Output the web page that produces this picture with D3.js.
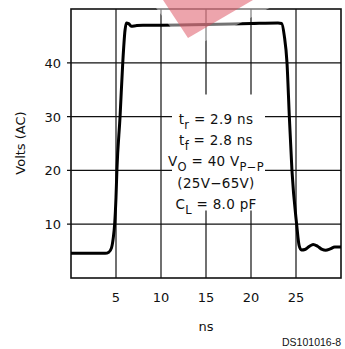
<!DOCTYPE html>
<html>
<head>
<meta charset="utf-8">
<script src="https://cdn.jsdelivr.net/npm/d3@7"></script>
<style>
  html, body { margin: 0; padding: 0; background: #fff; }
  svg { display: block; }
  text { font-family: "DejaVu Sans", sans-serif; fill: #111; }
</style>
</head>
<body>
<div id="chart"></div>
<script>
// waveform (ns, volts)
const timeNs = [0, 3.8, 4.2, 4.5, 4.7, 4.85, 5.0, 5.1, 5.45, 5.75, 6.0, 6.15, 6.4, 6.7, 7.2, 8.0, 10, 15, 20, 23.0, 23.4, 23.7, 24.0, 24.26, 24.55, 25.07, 25.35, 25.6, 26.0, 26.5, 26.9, 27.4, 27.9, 28.3, 28.8, 29.3, 30];
const volts  = [4.6, 4.6, 4.8, 5.6, 7.5, 10, 15, 20, 30, 40, 46, 47.4, 47.3, 46.8, 46.9, 47.0, 47.0, 47.1, 47.3, 47.4, 47.3, 45, 40, 30, 20, 10, 6.0, 5.2, 5.3, 5.9, 6.25, 5.9, 5.3, 5.15, 5.4, 5.75, 5.75];

const xTicks = [5, 10, 15, 20, 25];
const yTicks = [10, 20, 30, 40];

const note = [
  [["t", 0], ["r", 1], [" = 2.9 ns", 0]],
  [["t", 0], ["f", 1], [" = 2.8 ns", 0]],
  [["V", 0], ["O", 1], [" = 40 V", 0], ["P\u2212P", 1]],
  [["(25V\u221265V)", 0]],
  [["C", 0], ["L", 1], [" = 8.0 pF", 0]]
];

const W = 345, H = 349;
const margin = { left: 71, right: 4, top: 9, bottom: 71 };

const svg = d3.select('#chart').append('svg')
  .attr('width', W).attr('height', H);

const x = d3.scaleLinear().domain([0, 30]).range([margin.left, W - margin.right]);
const y = d3.scaleLinear().domain([0, 50]).range([H - margin.bottom, margin.top]);

// grid
const grid = svg.append('g').attr('stroke', '#111').attr('stroke-width', 1.2);
grid.selectAll('line.v').data(xTicks).enter().append('line')
  .attr('x1', d => x(d)).attr('x2', d => x(d))
  .attr('y1', y(50)).attr('y2', y(0));
grid.selectAll('line.h').data(yTicks).enter().append('line')
  .attr('x1', x(0) - 4).attr('x2', x(30))
  .attr('y1', d => y(d)).attr('y2', d => y(d));

// white box behind the annotation
svg.append('rect')
  .attr('x', 172).attr('y', 94.5)
  .attr('width', 93).attr('height', 116)
  .attr('fill', '#fff');

// frame
svg.append('rect')
  .attr('x', x(0)).attr('y', y(50))
  .attr('width', x(30) - x(0)).attr('height', y(0) - y(50))
  .attr('fill', 'none').attr('stroke', '#111').attr('stroke-width', 1.6);

// waveform
const line = d3.line()
  .x((d, i) => x(timeNs[i]))
  .y(d => y(d))
  .curve(d3.curveMonotoneX);
svg.append('path')
  .datum(volts)
  .attr('d', line)
  .attr('fill', 'none')
  .attr('stroke', '#000')
  .attr('stroke-width', 3)
  .attr('stroke-linejoin', 'round');

// tick labels
svg.append('g').selectAll('text').data(xTicks).enter().append('text')
  .attr('x', d => x(d)).attr('y', 302)
  .attr('text-anchor', 'middle')
  .attr('font-size', 13)
  .text(d => d);
svg.append('g').selectAll('text').data(yTicks).enter().append('text')
  .attr('x', 61).attr('y', d => y(d) + 5)
  .attr('text-anchor', 'end')
  .attr('font-size', 13)
  .text(d => d);

// axis titles
svg.append('text')
  .attr('x', x(15)).attr('y', 331)
  .attr('text-anchor', 'middle')
  .attr('font-size', 13)
  .text('ns');
svg.append('text')
  .attr('transform', 'translate(25,143) rotate(-90)')
  .attr('text-anchor', 'middle')
  .attr('font-size', 13)
  .text('Volts (AC)');

// annotation block
const baselines = [123.5, 144.5, 165.5, 187.5, 209];
note.forEach((parts, i) => {
  const t = svg.append('text')
    .attr('x', 216).attr('y', baselines[i])
    .attr('text-anchor', 'middle')
    .attr('font-size', 13.5)
    .style('letter-spacing', '0.3px');
  let shifted = false;
  parts.forEach(([s, sub]) => {
    const ts = t.append('tspan').text(s);
    if (sub) { ts.attr('dy', shifted ? 0 : 5).attr('font-size', 11.5); shifted = true; }
    else if (shifted) { ts.attr('dy', -5); shifted = false; }
  });
});

// figure code
svg.append('text')
  .attr('x', 341).attr('y', 346)
  .attr('text-anchor', 'end')
  .style('font-family', '"Liberation Sans", Arial, sans-serif')
  .attr('font-size', 10.5)
  .text('DS101016-8');

// stray watermark at the top
svg.append('polygon')
  .attr('points', '150,0 188,50 285,0')
  .attr('fill', '#fff').attr('opacity', 0.45);
svg.append('polygon')
  .attr('points', '163,0 188,38 253,0')
  .attr('fill', '#dc4a5a').attr('opacity', 0.5);
</script>
</body>
</html>
